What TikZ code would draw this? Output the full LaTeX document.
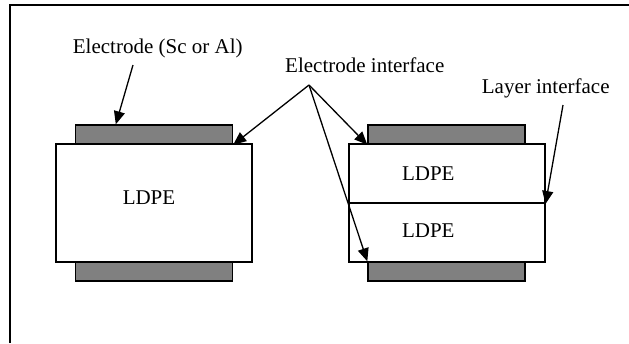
\documentclass[tikz,border=0pt]{standalone}
\usepackage{fontspec}
\setmainfont{Liberation Serif}
\usetikzlibrary{arrows.meta, positioning}
\definecolor{electrode}{HTML}{808080}

\begin{document}
\begin{tikzpicture}[x=1pt, y=-1pt,
  film/.style={draw, line width=2pt, fill=white, inner sep=0pt, minimum width=196pt},
  metal/.style={draw, line width=1.4pt, fill=electrode, inner sep=0pt, minimum width=157pt, minimum height=19pt},
  lbl/.style={font=\fontsize{21}{25}\selectfont, inner sep=0pt, anchor=base west},
  pointer/.style={-{Triangle[length=13pt, width=11pt]}, line width=1.3pt}]
  \useasboundingbox (0,0) rectangle (629,343);

  % Frame
  \draw[line width=1.8pt] (10,343) -- (10,5) -- (629,5);

  % Single film
  \node[film, anchor=north west, minimum height=118pt] (slabL) at (55,143) {};
  \node[metal, above=-1.7pt of slabL] (etopL) {};
  \node[metal, below=-1.7pt of slabL] (ebotL) {};
  \node[lbl, anchor=base] (ldpeL) at (149,204.3) {LDPE};

  % Two-layer film
  \node[film, anchor=north west, minimum height=59pt] (slabRa) at (347.5,143) {};
  \node[film, below=-2pt of slabRa, minimum height=59pt] (slabRb) {};
  \node[metal, above=-1.7pt of slabRa] (etopR) {};
  \node[metal, below=-1.7pt of slabRb] (ebotR) {};
  \node[lbl, anchor=base] (ldpeRa) at (428.3,180) {LDPE};
  \node[lbl, anchor=base] (ldpeRb) at (428.3,237.7) {LDPE};

  % Labels
  \node[lbl] (elecLbl) at (72.7,53.3) {Electrode (Sc or Al)};
  \node[lbl] (ifaceLbl) at (285,72.7) {Electrode interface};
  \node[lbl] (layerLbl) at (481.7,93.3) {Layer interface};

  % Arrows
  \coordinate (elecTail) at (133,65);
  \coordinate (ifaceTail) at (309,85);
  \coordinate (layerTail) at (563,105);
  \draw[pointer] (elecTail) -- ([xshift=41pt]etopL.north west);
  \draw[pointer] (ifaceTail) -- (etopL.south east);
  \draw[pointer] (ifaceTail) -- (etopR.south west);
  \draw[pointer] (ifaceTail) -- (ebotR.north west);
  \draw[pointer] (layerTail) -- (slabRa.south east);
\end{tikzpicture}
\end{document}
